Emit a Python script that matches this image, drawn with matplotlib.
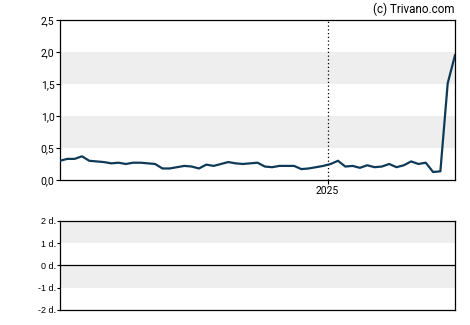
import numpy as np
import pandas as pd
import matplotlib
matplotlib.use("Agg")
import matplotlib.pyplot as plt
import matplotlib.dates as mdates

# weekly values
values = [0.30, 0.33, 0.33, 0.37, 0.30, 0.29, 0.28, 0.26, 0.27, 0.25,
          0.27, 0.27, 0.26, 0.25, 0.18, 0.18, 0.20, 0.22,
          0.21, 0.18, 0.24, 0.22, 0.25, 0.28, 0.26, 0.25, 0.26, 0.27,
          0.21, 0.20, 0.22, 0.22, 0.22, 0.17, 0.18, 0.20,
          0.22, 0.25, 0.30, 0.21, 0.22, 0.19, 0.23, 0.20, 0.21, 0.25,
          0.20, 0.23, 0.29, 0.25, 0.27, 0.125, 0.135, 1.51, 1.95]
dates = pd.date_range("2024-04-20", periods=len(values), freq="7D")

top_ticks = [0.0, 0.5, 1.0, 1.5, 2.0, 2.5]
top_labels = ["0,0", "0,5", "1,0", "1,5", "2,0", "2,5"]
bot_ticks = [-2, -1, 0, 1, 2]
bot_labels = ["-2 d.", "-1 d.", "0 d.", "1 d.", "2 d."]

plt.rcParams['font.family'] = ['Roboto', 'DejaVu Sans']
fig = plt.figure(figsize=(4.7, 3.25), dpi=100)

ax = fig.add_axes([0.1277, 0.4462, 0.8404, 0.4923])
for lo in (0.5, 1.5):
    ax.axhspan(lo, lo + 0.5, color="#eeeeee", lw=0, zorder=0)
ax.axvline(pd.Timestamp("2025-01-01"), color="black", ls=(0, (1, 2)), lw=0.9, zorder=1)
ax.plot(dates, values, color="#0e3a57", lw=1.6, zorder=3)
ax.set_xlim(dates[0], dates[-1])
ax.set_ylim(0, 2.5)
ax.set_yticks(top_ticks)
ax.set_yticklabels(top_labels, fontsize=7.5)
ax.xaxis.set_major_locator(mdates.YearLocator())
ax.xaxis.set_major_formatter(mdates.DateFormatter("%Y"))
ax.tick_params(axis="x", labelsize=7.5, length=3, pad=1)
ax.tick_params(axis="y", length=3, pad=1)
for s in ax.spines.values():
    s.set_linewidth(0.9)
fig.text(0.968, 0.972, "(c) Trivano.com", ha="right", va="center", fontsize=8.4)

ax2 = fig.add_axes([0.1277, 0.0462, 0.8404, 0.2748])
ax2.axhspan(1, 2, color="#eeeeee", lw=0, zorder=0)
ax2.axhspan(-1, 0, color="#eeeeee", lw=0, zorder=0)
ax2.axhline(0, color="black", lw=0.9)
ax2.set_ylim(-2, 2)
ax2.set_xlim(0, 1)
ax2.set_xticks([])
ax2.set_yticks(bot_ticks)
ax2.set_yticklabels(bot_labels, fontsize=6.5, family=['Liberation Sans', 'DejaVu Sans'])
ax2.tick_params(axis="y", length=2, pad=1)
for s in ax2.spines.values():
    s.set_linewidth(0.9)

plt.savefig("out.png", dpi=100)
